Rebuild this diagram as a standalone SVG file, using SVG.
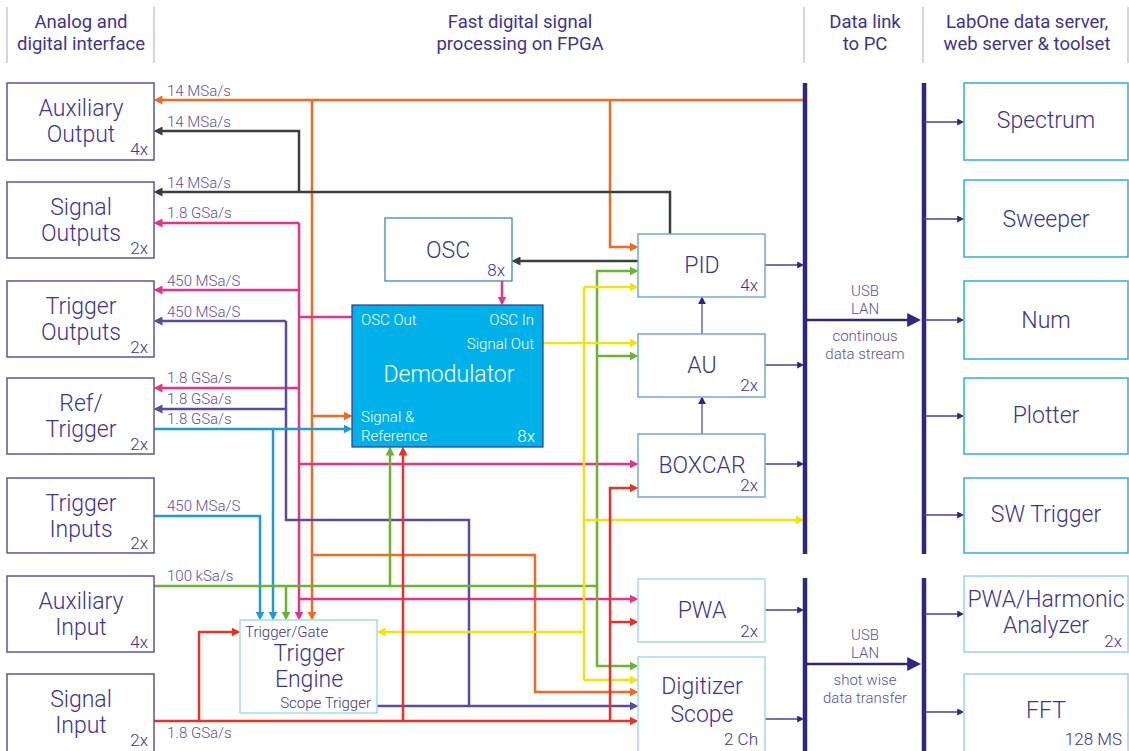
<svg xmlns="http://www.w3.org/2000/svg" width="1129" height="751" viewBox="0 0 1129 751">
<style>
text{font-family:Roboto,"Liberation Sans",sans-serif;fill:#3d3393}
.hd{font-size:18.5px;text-anchor:middle;font-weight:400}
.bx{font-size:23px;font-weight:300;text-anchor:middle}
.mu{font-size:17px;font-weight:300;text-anchor:end}
.lb{font-size:15px;font-weight:300;fill:#5b4fa3}
.lc{font-size:15px;font-weight:300;fill:#5b4fa3;text-anchor:middle}
.wt{fill:#ffffff;font-weight:300}
.sep{stroke:#c9c5de;stroke-width:1.5}
.lbox{fill:#fff;stroke:#5d52a5;stroke-width:1.5}
.rbox{fill:#fff;stroke:#2aaee6;stroke-width:1.5}
.rbox2{fill:#fff;stroke:#93d5f1;stroke-width:1.5}
.mbox{fill:#fff;stroke:#72a9dc;stroke-width:1.5}
.cbox{fill:#fff;stroke:#a3dbf3;stroke-width:1.5}
.c{fill:none;stroke-width:2.5}
.or{stroke:#f26a21}.dk{stroke:#3a3e3e}.pk{stroke:#e5338a}.pu{stroke:#5b4a9e}.bl{stroke:#1e9ad6}.gr{stroke:#6ab42f}.ye{stroke:#f3e30c}.rd{stroke:#e63228}
.out{fill:none;stroke:#4a3f95;stroke-width:1.5}
.bus{fill:none;stroke:#2e2680;stroke-width:4.5}
.up{fill:none;stroke:#6c63ad;stroke-width:1.5}
</style>
<defs>
<marker id="aor" viewBox="0 0 10 10" refX="5" refY="5" markerWidth="9" markerHeight="9" markerUnits="userSpaceOnUse" orient="auto"><path d="M0,0L10,5L0,10z" fill="#f26a21"/></marker>
<marker id="adk" viewBox="0 0 10 10" refX="5" refY="5" markerWidth="9" markerHeight="9" markerUnits="userSpaceOnUse" orient="auto"><path d="M0,0L10,5L0,10z" fill="#3a3e3e"/></marker>
<marker id="apk" viewBox="0 0 10 10" refX="5" refY="5" markerWidth="9" markerHeight="9" markerUnits="userSpaceOnUse" orient="auto"><path d="M0,0L10,5L0,10z" fill="#e5338a"/></marker>
<marker id="apu" viewBox="0 0 10 10" refX="5" refY="5" markerWidth="9" markerHeight="9" markerUnits="userSpaceOnUse" orient="auto"><path d="M0,0L10,5L0,10z" fill="#5b4a9e"/></marker>
<marker id="abl" viewBox="0 0 10 10" refX="5" refY="5" markerWidth="9" markerHeight="9" markerUnits="userSpaceOnUse" orient="auto"><path d="M0,0L10,5L0,10z" fill="#1e9ad6"/></marker>
<marker id="agr" viewBox="0 0 10 10" refX="5" refY="5" markerWidth="9" markerHeight="9" markerUnits="userSpaceOnUse" orient="auto"><path d="M0,0L10,5L0,10z" fill="#6ab42f"/></marker>
<marker id="aye" viewBox="0 0 10 10" refX="5" refY="5" markerWidth="9" markerHeight="9" markerUnits="userSpaceOnUse" orient="auto"><path d="M0,0L10,5L0,10z" fill="#f3e30c"/></marker>
<marker id="ard" viewBox="0 0 10 10" refX="5" refY="5" markerWidth="9" markerHeight="9" markerUnits="userSpaceOnUse" orient="auto"><path d="M0,0L10,5L0,10z" fill="#e63228"/></marker>
<marker id="aout" viewBox="0 0 10 10" refX="4" refY="5" markerWidth="7" markerHeight="7" markerUnits="userSpaceOnUse" orient="auto"><path d="M0,0L10,5L0,10z" fill="#2e2680"/></marker>
<marker id="aup" viewBox="0 0 10 10" refX="4" refY="5" markerWidth="8" markerHeight="8" markerUnits="userSpaceOnUse" orient="auto"><path d="M0,0L10,5L0,10z" fill="#2e2680"/></marker>
<marker id="abig" viewBox="0 0 10 10" refX="2" refY="5" markerWidth="14" markerHeight="14" markerUnits="userSpaceOnUse" orient="auto"><path d="M0,0L10,5L0,10z" fill="#2e2680"/></marker>
</defs>
<rect width="1129" height="751" fill="#fff"/>

<g id="header">
<line class="sep" x1="7" y1="7" x2="7" y2="63"/>
<line class="sep" x1="154" y1="7" x2="154" y2="63"/>
<line class="sep" x1="804" y1="7" x2="804" y2="63"/>
<line class="sep" x1="923" y1="7" x2="923" y2="63"/>
<line class="sep" x1="1128" y1="7" x2="1128" y2="63"/>
<text class="hd" x="81" y="28">Analog and</text>
<text class="hd" x="81" y="50">digital interface</text>
<text class="hd" x="520" y="28">Fast digital signal</text>
<text class="hd" x="520" y="50">processing on FPGA</text>
<text class="hd" x="865" y="28">Data link</text>
<text class="hd" x="865" y="50">to PC</text>
<text class="hd" x="1027" y="28">LabOne data server,</text>
<text class="hd" x="1027" y="50">web server &amp; toolset</text>
</g>

<g id="connectors">
<path class="c or" d="M804,100H158" marker-end="url(#aor)"/>
<path class="c or" d="M312,100V616" marker-end="url(#aor)"/>
<path class="c or" d="M610,100V247H634" marker-end="url(#aor)"/>
<path class="c or" d="M312,416H348" marker-end="url(#aor)"/>
<path class="c or" d="M312,555H535V692H634" marker-end="url(#aor)"/>
<path class="c dk" d="M670,234V192H158" marker-end="url(#adk)"/>
<path class="c dk" d="M299,192V131H158" marker-end="url(#adk)"/>
<path class="c dk" d="M638,261H516" marker-end="url(#adk)"/>
<path class="c pk" d="M299,223H158" marker-end="url(#apk)"/>
<path class="c pk" d="M299,223V616" marker-end="url(#apk)"/>
<path class="c pk" d="M299,290H158" marker-end="url(#apk)"/>
<path class="c pk" d="M299,317H352"/>
<path class="c pk" d="M299,388H158" marker-end="url(#apk)"/>
<path class="c pk" d="M299,464H634" marker-end="url(#apk)"/>
<path class="c pk" d="M299,599H634" marker-end="url(#apk)"/>
<path class="c pk" d="M502,281V301" marker-end="url(#apk)"/>
<path class="c pu" d="M286,321H158" marker-end="url(#apu)"/>
<path class="c pu" d="M286,409H158" marker-end="url(#apu)"/>
<path class="c pu" d="M286,321V520H469V706"/>
<path class="c pu" d="M377,706H634" marker-end="url(#apu)"/>
<path class="c bl" d="M154,429H348" marker-end="url(#abl)"/>
<path class="c bl" d="M273,429V616" marker-end="url(#abl)"/>
<path class="c bl" d="M154,516H260V616" marker-end="url(#abl)"/>
<path class="c gr" d="M154,586H597"/>
<path class="c gr" d="M286,586V616" marker-end="url(#agr)"/>
<path class="c gr" d="M390,586V451" marker-end="url(#agr)"/>
<path class="c gr" d="M597,586V271H634" marker-end="url(#agr)"/>
<path class="c gr" d="M597,356H634" marker-end="url(#agr)"/>
<path class="c gr" d="M597,586V666H634" marker-end="url(#agr)"/>
<path class="c ye" d="M543,343H634" marker-end="url(#aye)"/>
<path class="c ye" d="M584,287V680"/>
<path class="c ye" d="M584,287H634" marker-end="url(#aye)"/>
<path class="c ye" d="M584,520H800" marker-end="url(#aye)"/>
<path class="c ye" d="M584,632H381" marker-end="url(#aye)"/>
<path class="c ye" d="M584,680H634" marker-end="url(#aye)"/>
<path class="c rd" d="M154,721H634" marker-end="url(#ard)"/>
<path class="c rd" d="M199,721V632H236" marker-end="url(#ard)"/>
<path class="c rd" d="M403,721V451" marker-end="url(#ard)"/>
<path class="c rd" d="M610,721V488H634" marker-end="url(#ard)"/>
<path class="c rd" d="M610,622H634" marker-end="url(#ard)"/>
<path class="up" d="M702,334V301" marker-end="url(#aup)"/>
<path class="up" d="M702,434V401" marker-end="url(#aup)"/>
<path class="out" d="M765,265H800" marker-end="url(#aout)"/>
<path class="out" d="M765,365H800" marker-end="url(#aout)"/>
<path class="out" d="M765,464H800" marker-end="url(#aout)"/>
<path class="out" d="M765,610H800" marker-end="url(#aout)"/>
<path class="out" d="M765,719H800" marker-end="url(#aout)"/>
<path class="bus" d="M805,83V554M805,578V751M924,83V554M924,578V751"/>
<path class="c" stroke="#2e2680" stroke-width="3" d="M805,320H910" marker-end="url(#abig)"/>
<path class="c" stroke="#2e2680" stroke-width="3" d="M805,664H910" marker-end="url(#abig)"/>
<path class="out" d="M924,122H960" marker-end="url(#aout)"/>
<path class="out" d="M924,219H960" marker-end="url(#aout)"/>
<path class="out" d="M924,320H960" marker-end="url(#aout)"/>
<path class="out" d="M924,416H960" marker-end="url(#aout)"/>
<path class="out" d="M924,515H960" marker-end="url(#aout)"/>
<path class="out" d="M924,614H960" marker-end="url(#aout)"/>
<path class="out" d="M924,712H960" marker-end="url(#aout)"/>
<text class="lb" x="167" y="96">14 MSa/s</text>
<text class="lb" x="167" y="127">14 MSa/s</text>
<text class="lb" x="167" y="188">14 MSa/s</text>
<text class="lb" x="167" y="218">1.8 GSa/s</text>
<text class="lb" x="167" y="286">450 MSa/S</text>
<text class="lb" x="167" y="317">450 MSa/S</text>
<text class="lb" x="167" y="383">1.8 GSa/s</text>
<text class="lb" x="167" y="404">1.8 GSa/s</text>
<text class="lb" x="167" y="424">1.8 GSa/s</text>
<text class="lb" x="167" y="511">450 MSa/S</text>
<text class="lb" x="167" y="581">100 kSa/s</text>
<text class="lb" x="167" y="738">1.8 GSa/s</text>
<text class="lc" x="865" y="296">USB</text>
<text class="lc" x="865" y="314">LAN</text>
<text class="lc" x="865" y="341">continous</text>
<text class="lc" x="865" y="359">data stream</text>
<text class="lc" x="865" y="640">USB</text>
<text class="lc" x="865" y="658">LAN</text>
<text class="lc" x="865" y="685">shot wise</text>
<text class="lc" x="865" y="703">data transfer</text>
</g>

<g id="aux-output"><rect class="lbox" x="7" y="83" width="147" height="77"/><text class="bx" x="81" y="116">Auxiliary</text><text class="bx" x="81" y="142">Output</text><text class="mu" x="148" y="155">4x</text></g>
<g id="signal-outputs"><rect class="lbox" x="7" y="182" width="147" height="76"/><text class="bx" x="81" y="215">Signal</text><text class="bx" x="81" y="241">Outputs</text><text class="mu" x="148" y="254">2x</text></g>
<g id="trigger-outputs"><rect class="lbox" x="7" y="281" width="147" height="76"/><text class="bx" x="81" y="314">Trigger</text><text class="bx" x="81" y="340">Outputs</text><text class="mu" x="148" y="353">2x</text></g>
<g id="ref-trigger"><rect class="lbox" x="7" y="378" width="147" height="76"/><text class="bx" x="81" y="411">Ref/</text><text class="bx" x="81" y="437">Trigger</text><text class="mu" x="148" y="450">2x</text></g>
<g id="trigger-inputs"><rect class="lbox" x="7" y="478" width="147" height="75"/><text class="bx" x="81" y="511">Trigger</text><text class="bx" x="81" y="537">Inputs</text><text class="mu" x="148" y="549">2x</text></g>
<g id="aux-input"><rect class="lbox" x="7" y="576" width="147" height="76"/><text class="bx" x="81" y="609">Auxiliary</text><text class="bx" x="81" y="635">Input</text><text class="mu" x="148" y="648">4x</text></g>
<g id="signal-input"><rect class="lbox" x="7" y="674" width="147" height="80"/><text class="bx" x="81" y="707">Signal</text><text class="bx" x="81" y="733">Input</text><text class="mu" x="148" y="746">2x</text></g>

<g id="osc"><rect x="385" y="218" width="127" height="63" fill="#fff" stroke="#2b7fc1" stroke-width="1.2"/><text class="bx" x="448" y="258">OSC</text><text class="mu" x="505" y="276">8x</text></g>
<g id="demodulator"><rect x="352" y="305" width="191" height="142" fill="#00b0e8" stroke="#2b3a8c" stroke-width="1.2"/>
<text class="wt" x="361" y="325" font-size="15">OSC Out</text>
<text class="wt" x="534" y="325" font-size="15" text-anchor="end">OSC In</text>
<text class="wt" x="534" y="349" font-size="15" text-anchor="end">Signal Out</text>
<text class="wt" x="449" y="382" font-size="23" text-anchor="middle">Demodulator</text>
<text class="wt" x="361" y="422" font-size="15">Signal &amp;</text>
<text class="wt" x="361" y="441" font-size="15">Reference</text>
<text class="wt" x="535" y="442" font-size="17" text-anchor="end">8x</text></g>
<g id="pid"><rect class="mbox" x="638" y="234" width="127" height="63"/><text class="bx" x="702" y="273">PID</text><text class="mu" x="758" y="291">4x</text></g>
<g id="au"><rect class="mbox" x="638" y="334" width="127" height="63"/><text class="bx" x="702" y="373">AU</text><text class="mu" x="758" y="391">2x</text></g>
<g id="boxcar"><rect class="mbox" x="638" y="434" width="127" height="63"/><text class="bx" x="702" y="473">BOXCAR</text><text class="mu" x="758" y="491">2x</text></g>
<g id="pwa"><rect class="cbox" x="638" y="579" width="127" height="63"/><text class="bx" x="702" y="618">PWA</text><text class="mu" x="758" y="637">2x</text></g>
<g id="digitizer"><rect class="cbox" x="638" y="657" width="127" height="96"/><text class="bx" x="702" y="694">Digitizer</text><text class="bx" x="702" y="722">Scope</text><text class="mu" x="758" y="745">2 Ch</text></g>
<g id="trigger-engine"><rect class="cbox" x="240" y="620" width="137" height="93"/>
<text class="lb" x="245" y="637" style="fill:#3d3393">Trigger/Gate</text>
<text class="bx" x="309" y="661">Trigger</text><text class="bx" x="309" y="687">Engine</text>
<text class="lb" x="371" y="708" text-anchor="end" style="fill:#3d3393">Scope Trigger</text></g>

<g id="spectrum"><rect class="rbox" x="964" y="83" width="164" height="77"/><text class="bx" x="1046" y="128">Spectrum</text></g>
<g id="sweeper"><rect class="rbox" x="964" y="180" width="164" height="77"/><text class="bx" x="1046" y="227">Sweeper</text></g>
<g id="num"><rect class="rbox" x="964" y="281" width="164" height="78"/><text class="bx" x="1046" y="328">Num</text></g>
<g id="plotter"><rect class="rbox" x="964" y="378" width="164" height="76"/><text class="bx" x="1046" y="423">Plotter</text></g>
<g id="sw-trigger"><rect class="rbox" x="964" y="478" width="164" height="75"/><text class="bx" x="1046" y="522">SW Trigger</text></g>
<g id="pwa-harmonic"><rect class="rbox2" x="964" y="576" width="164" height="76"/><text class="bx" x="1046" y="607">PWA/Harmonic</text><text class="bx" x="1046" y="633">Analyzer</text><text class="mu" x="1122" y="647">2x</text></g>
<g id="fft"><rect class="rbox2" x="964" y="674" width="164" height="80"/><text class="bx" x="1046" y="718">FFT</text><text class="mu" x="1122" y="745">128 MS</text></g>
</svg>
